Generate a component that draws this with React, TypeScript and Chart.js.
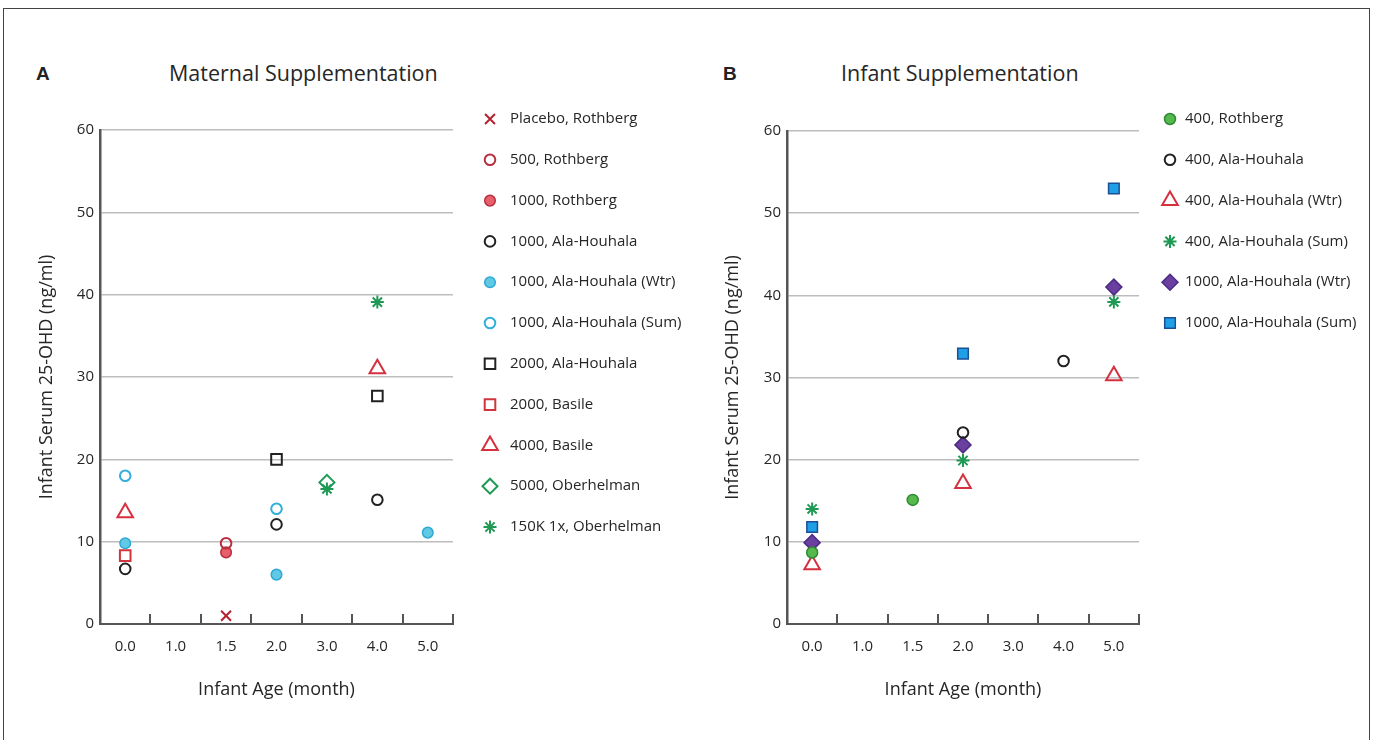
import React, { useEffect, useRef } from 'react';
import { Chart, registerables, PointElement } from 'chart.js';

Chart.register(...registerables);

const FONT = '"Open Sans", "Noto Sans", sans-serif';

// ---- shared axis data ----
const categories = ['0.0', '1.0', '1.5', '2.0', '3.0', '4.0', '5.0'];
const yMin = 0;
const yMax = 60;
const yStep = 10;

// ---- Panel A: Maternal Supplementation (x category, y ng/ml) ----
const placeboRothberg: [string, number][] = [['1.5', 1.0]];
const m500Rothberg: [string, number][] = [['1.5', 9.8]];
const m1000Rothberg: [string, number][] = [['1.5', 8.7]];
const m1000Ala: [string, number][] = [['0.0', 6.7], ['2.0', 12.1], ['4.0', 15.1]];
const m1000AlaWtr: [string, number][] = [['0.0', 9.8], ['2.0', 6.0], ['5.0', 11.1]];
const m1000AlaSum: [string, number][] = [['0.0', 18.0], ['2.0', 14.0]];
const m2000Ala: [string, number][] = [['2.0', 20.0], ['4.0', 27.7]];
const m2000Basile: [string, number][] = [['0.0', 8.3]];
const m4000Basile: [string, number][] = [['0.0', 13.5], ['4.0', 31.0]];
const m5000Ober: [string, number][] = [['3.0', 17.2]];
const m150kOber: [string, number][] = [['3.0', 16.4], ['4.0', 39.1]];

// ---- Panel B: Infant Supplementation ----
const i400Rothberg: [string, number][] = [['0.0', 8.7], ['1.5', 15.1]];
const i400Ala: [string, number][] = [['2.0', 23.3], ['4.0', 32.0]];
const i400AlaWtr: [string, number][] = [['0.0', 7.2], ['2.0', 17.1], ['5.0', 30.2]];
const i400AlaSum: [string, number][] = [['0.0', 14.0], ['2.0', 19.9], ['5.0', 39.2]];
const i1000AlaWtr: [string, number][] = [['0.0', 9.9], ['2.0', 21.8], ['5.0', 41.0]];
const i1000AlaSum: [string, number][] = [['0.0', 11.8], ['2.0', 32.9], ['5.0', 53.0]];

type Style = { pointStyle: string; r: number; fill: string; stroke: string; bw: number };
type Series = { label: string; data: [string, number][]; style: Style };

const NONE = 'rgba(0,0,0,0)';
const TEXT = '#262626';

const seriesA: Series[] = [
  { label: 'Placebo, Rothberg', data: placeboRothberg, style: { pointStyle: 'crossRot', r: 7, fill: NONE, stroke: '#b3222e', bw: 2 } },
  { label: '500, Rothberg', data: m500Rothberg, style: { pointStyle: 'circle', r: 5.3, fill: NONE, stroke: '#b8303f', bw: 2 } },
  { label: '1000, Rothberg', data: m1000Rothberg, style: { pointStyle: 'circle', r: 5.3, fill: '#e9606d', stroke: '#b8303f', bw: 1.5 } },
  { label: '1000, Ala-Houhala', data: m1000Ala, style: { pointStyle: 'circle', r: 5.3, fill: NONE, stroke: '#222222', bw: 2 } },
  { label: '1000, Ala-Houhala (Wtr)', data: m1000AlaWtr, style: { pointStyle: 'circle', r: 5.3, fill: '#62c9e4', stroke: '#2ea9d4', bw: 1.5 } },
  { label: '1000, Ala-Houhala (Sum)', data: m1000AlaSum, style: { pointStyle: 'circle', r: 5.3, fill: NONE, stroke: '#33afdb', bw: 2 } },
  { label: '2000, Ala-Houhala', data: m2000Ala, style: { pointStyle: 'rect', r: 7.5, fill: NONE, stroke: '#222222', bw: 2 } },
  { label: '2000, Basile', data: m2000Basile, style: { pointStyle: 'rect', r: 7.5, fill: NONE, stroke: '#d0353d', bw: 2 } },
  { label: '4000, Basile', data: m4000Basile, style: { pointStyle: 'triangle', r: 9, fill: NONE, stroke: '#d5303f', bw: 2 } },
  { label: '5000, Oberhelman', data: m5000Ober, style: { pointStyle: 'rectRot', r: 7.5, fill: NONE, stroke: '#1f9a55', bw: 2 } },
  { label: '150K 1x, Oberhelman', data: m150kOber, style: { pointStyle: 'star', r: 6.5, fill: NONE, stroke: '#1f9a55', bw: 2 } },
];

const seriesB: Series[] = [
  { label: '400, Rothberg', data: i400Rothberg, style: { pointStyle: 'circle', r: 5.5, fill: '#56b94b', stroke: '#2e8a36', bw: 1.5 } },
  { label: '400, Ala-Houhala', data: i400Ala, style: { pointStyle: 'circle', r: 5.3, fill: NONE, stroke: '#222222', bw: 2 } },
  { label: '400, Ala-Houhala (Wtr)', data: i400AlaWtr, style: { pointStyle: 'triangle', r: 9, fill: NONE, stroke: '#d5303f', bw: 2 } },
  { label: '400, Ala-Houhala (Sum)', data: i400AlaSum, style: { pointStyle: 'star', r: 6.5, fill: NONE, stroke: '#1f9a55', bw: 2 } },
  { label: '1000, Ala-Houhala (Wtr)', data: i1000AlaWtr, style: { pointStyle: 'rectRot', r: 8, fill: '#6b3fa0', stroke: '#4b2d85', bw: 1.5 } },
  { label: '1000, Ala-Houhala (Sum)', data: i1000AlaSum, style: { pointStyle: 'rect', r: 7.5, fill: '#1fa0e6', stroke: '#1d4f95', bw: 1.5 } },
];

type PanelLayout = {
  left: number; top: number; width: number; height: number;
  axisWidth: number; padTop: number; padRight: number; xAxisHeight: number;
  legendMarkerX: number; legendTextX: number; legendY0: number; legendDy: number;
  yTitlePad: number;
};

const layoutA: PanelLayout = {
  left: 30, top: 90, width: 660, height: 620,
  axisWidth: 70, padTop: 40, padRight: 237, xAxisHeight: 86,
  legendMarkerX: 460, legendTextX: 480, legendY0: 29, legendDy: 40.8,
  yTitlePad: 6,
};
const layoutB: PanelLayout = {
  left: 715, top: 90, width: 655, height: 620,
  axisWidth: 72, padTop: 41, padRight: 231, xAxisHeight: 86,
  legendMarkerX: 455, legendTextX: 470, legendY0: 29, legendDy: 40.8,
  yTitlePad: 7,
};

const tickMarksPlugin = {
  id: 'insideTicks',
  beforeDatasetsDraw(chart: any) {
    const xs = chart.scales.x;
    const n = categories.length;
    const half = (xs.getPixelForValue(1) - xs.getPixelForValue(0)) / 2;
    const bottom = chart.chartArea.bottom;
    const ctx = chart.ctx;
    ctx.save();
    ctx.strokeStyle = '#555555';
    ctx.lineWidth = 2;
    ctx.beginPath();
    for (let i = 0; i < n; i++) {
      const px = Math.round(xs.getPixelForValue(i) + half);
      ctx.moveTo(px, bottom - 10);
      ctx.lineTo(px, bottom);
    }
    ctx.stroke();
    ctx.restore();
  },
};

function makeLegendPlugin(L: PanelLayout) {
  return {
    id: 'sideLegend',
    afterDraw(chart: any) {
      const ctx = chart.ctx;
      ctx.save();
      const area = { left: 0, top: 0, right: chart.width, bottom: chart.height };
      chart.data.datasets.forEach((ds: any, i: number) => {
        const meta = chart.getDatasetMeta(i);
        const el = meta.data[0];
        const y = L.legendY0 + i * L.legendDy;
        if (el && el.options) {
          const p: any = new (PointElement as any)({ x: L.legendMarkerX, y, options: el.options });
          p.draw(ctx, area);
        }
        ctx.fillStyle = TEXT;
        ctx.font = `15px ${FONT}`;
        ctx.textAlign = 'left';
        ctx.textBaseline = 'middle';
        ctx.fillText(ds.label, L.legendTextX, y);
      });
      ctx.restore();
    },
  };
}

function Panel({ series, L }: { series: Series[]; L: PanelLayout }) {
  const ref = useRef<HTMLCanvasElement>(null);
  useEffect(() => {
    if (!ref.current) return;
    const datasets = series.map((s) => ({
      label: s.label,
      data: s.data.map(([x, y]) => ({ x, y })),
      showLine: false,
      pointStyle: s.style.pointStyle,
      pointRadius: s.style.r,
      pointHoverRadius: s.style.r,
      pointBackgroundColor: s.style.fill,
      pointBorderColor: s.style.stroke,
      pointBorderWidth: s.style.bw,
      backgroundColor: s.style.fill,
      borderColor: s.style.stroke,
    }));
    const chart = new Chart(ref.current, {
      type: 'scatter',
      data: { labels: categories, datasets } as any,
      options: {
        animation: false,
        responsive: false,
        maintainAspectRatio: false,
        layout: { padding: { top: L.padTop, right: L.padRight, bottom: 0, left: 0 } },
        plugins: { legend: { display: false }, tooltip: { enabled: false }, title: { display: false } },
        scales: {
          x: {
            type: 'category',
            labels: categories,
            offset: true,
            grid: { display: false, drawTicks: false },
            border: { display: true, color: '#555555', width: 2 },
            ticks: { color: TEXT, font: { family: FONT, size: 15 }, padding: 14, autoSkip: false, maxRotation: 0 },
            title: { display: true, text: 'Infant Age (month)', color: TEXT, font: { family: FONT, size: 18 }, padding: { top: 0, bottom: 9 } },
            afterFit: (s: any) => { s.height = L.xAxisHeight; },
          },
          y: {
            type: 'linear',
            min: yMin,
            max: yMax,
            ticks: { stepSize: yStep, color: TEXT, font: { family: FONT, size: 15 }, padding: 6 },
            grid: {
              color: (c: any) => (c.tick && c.tick.value === 0 ? NONE : '#bdbdbd'),
              lineWidth: 1.5,
              drawTicks: false,
            },
            border: { display: true, color: '#555555', width: 2.5 },
            title: { display: true, text: 'Infant Serum 25-OHD (ng/ml)', color: TEXT, font: { family: FONT, size: 18 }, padding: { top: L.yTitlePad, bottom: 0 } },
            afterFit: (s: any) => { s.width = L.axisWidth; },
          },
        },
      } as any,
      plugins: [tickMarksPlugin, makeLegendPlugin(L)],
    });
    return () => chart.destroy();
  }, [series, L]);
  return (
    <canvas
      ref={ref}
      width={L.width}
      height={L.height}
      style={{ position: 'absolute', left: L.left, top: L.top, width: L.width, height: L.height }}
    />
  );
}

export default function App() {
  const letter: React.CSSProperties = {
    position: 'absolute', fontFamily: '"Liberation Sans", Arial, sans-serif', fontWeight: 'bold',
    fontSize: 19, lineHeight: '19px', color: '#222',
  };
  const title: React.CSSProperties = {
    position: 'absolute', fontFamily: FONT, fontSize: 21.5, lineHeight: '22px', color: TEXT, whiteSpace: 'nowrap',
  };
  return (
    <div style={{ position: 'fixed', left: 0, top: 0, width: 1375, height: 740, background: '#fff', overflow: 'hidden' }}>
      <div style={{ position: 'absolute', left: 3, top: 8, width: 1367, height: 800, border: '1.5px solid #444', boxSizing: 'border-box' }} />
      <div style={{ ...letter, left: 36, top: 64 }}>A</div>
      <div style={{ ...title, left: 169, top: 62 }}>Maternal Supplementation</div>
      <div style={{ ...letter, left: 723, top: 64 }}>B</div>
      <div style={{ ...title, left: 841, top: 62 }}>Infant Supplementation</div>
      <Panel series={seriesA} L={layoutA} />
      <Panel series={seriesB} L={layoutB} />
    </div>
  );
}
